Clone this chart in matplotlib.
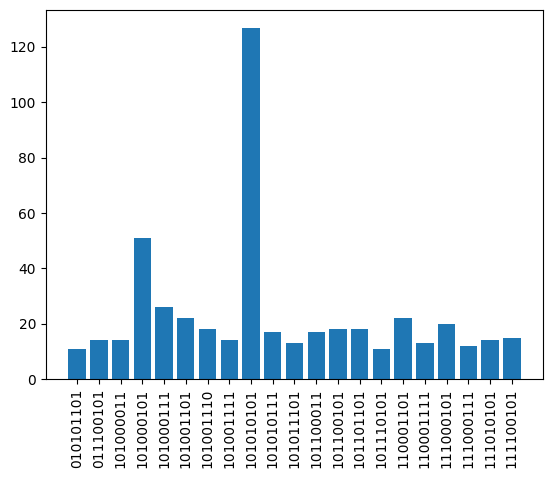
import matplotlib
matplotlib.use("Agg")
from matplotlib import pyplot as plt

# bit strings and their counts
labels = ["010101101", "011100101", "101000011", "101000101", "101000111",
          "101001101", "101001110", "101001111", "101010101", "101010111",
          "101011101", "101100011", "101100101", "101101101", "101110101",
          "110001101", "110001111", "111000101", "111000111", "111010101",
          "111100101"]
counts = [11, 14, 14, 51, 26, 22, 18, 14, 127, 17, 13, 17, 18, 18, 11,
          22, 13, 20, 12, 14, 15]

fig = plt.figure(figsize=(5.52, 4.78), dpi=100)
ax = fig.add_axes([0.083, 0.207, 0.901, 0.772])
ax.bar(labels, counts)
plt.xticks(rotation=90)
fig.savefig("out.png", dpi=100)
